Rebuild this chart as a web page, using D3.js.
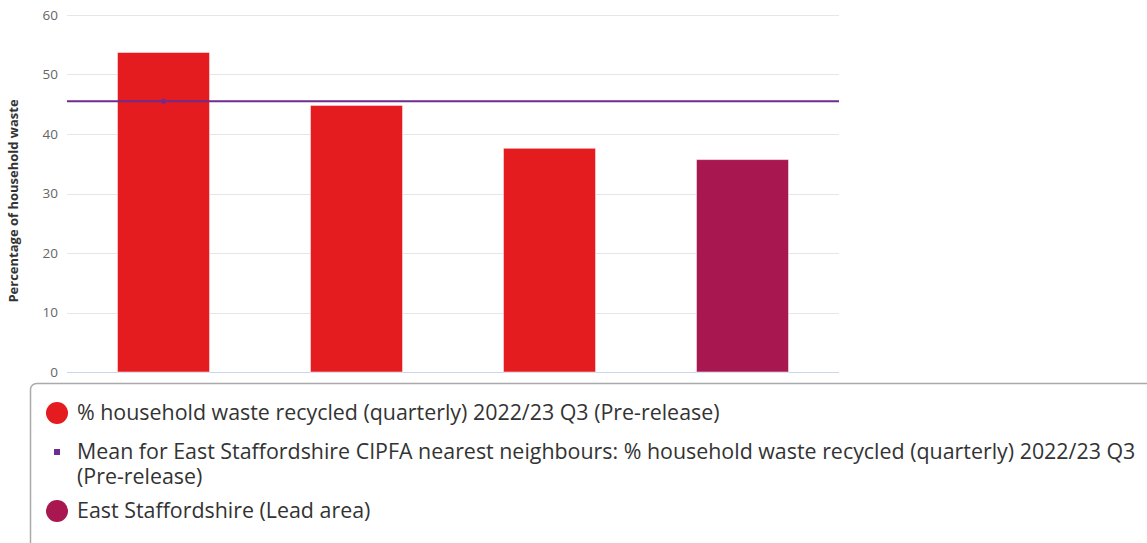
<!DOCTYPE html>
<html><head><meta charset="utf-8">
<script src="https://cdn.jsdelivr.net/npm/d3@7"></script>
<style>
body{margin:0;background:#fff;}
svg{display:block;font-family:"Open Sans",sans-serif;}
</style></head>
<body>
<svg id="chart" width="1147" height="543"></svg>
<script>
const categories = ["Area A","Area B","Area C","East Staffordshire"];
const values = [53.7, 44.8, 37.6, 35.7];
const isLead = [false, false, false, true];
const meanValue = 45.5;
const yTicks = [0,10,20,30,40,50,60];
const legendLabels = [
  "% household waste recycled (quarterly) 2022/23 Q3 (Pre-release)",
  ["Mean for East Staffordshire CIPFA nearest neighbours: % household waste recycled (quarterly) 2022/23 Q3","(Pre-release)"],
  "East Staffordshire (Lead area)"
];
const yTitle = "Percentage of household waste";

const colors = {bar:"#e41b1f", lead:"#a8174f", mean:"#6f2b8f"};
const svg = d3.select("#chart");
const plot = {left:67, right:839, top:15, bottom:372};

const x = d3.scaleBand().domain(categories).range([plot.left, plot.right]).padding(0);
const y = d3.scaleLinear().domain([0,60]).range([plot.bottom, plot.top]);

// grid
svg.append("g").selectAll("line").data(yTicks).join("line")
  .attr("x1", plot.left).attr("x2", plot.right)
  .attr("y1", d=>Math.round(y(d))+0.5).attr("y2", d=>Math.round(y(d))+0.5)
  .attr("stroke", d=> d===0 ? "#ccd6eb" : "#e6e6e6").attr("stroke-width",1);

// y axis labels
svg.append("g").selectAll("text").data(yTicks).join("text")
  .attr("x", 58).attr("y", d=>y(d)).attr("dy","0.35em")
  .attr("text-anchor","end").attr("font-size",13.5).attr("fill","#666")
  .text(d=>d);

svg.append("text")
  .attr("transform", `translate(18,201) rotate(-90)`)
  .attr("text-anchor","middle").attr("font-size",13).attr("font-weight","bold")
  .attr("fill","#333").text(yTitle);

// bars
const bw = x.bandwidth()*0.477;
svg.append("g").selectAll("rect").data(categories).join("rect")
  .attr("x", d=>x(d)+x.bandwidth()/2-bw/2)
  .attr("width", bw)
  .attr("y", (d,i)=>y(values[i]))
  .attr("height", (d,i)=>y(0)-y(values[i]))
  .attr("fill", (d,i)=> isLead[i] ? colors.lead : colors.bar)
  .attr("stroke","rgba(255,255,255,0.5)").attr("stroke-width",1);

// mean line
svg.append("line")
  .attr("x1", plot.left).attr("x2", plot.right)
  .attr("y1", y(meanValue)).attr("y2", y(meanValue))
  .attr("stroke", colors.mean).attr("stroke-width",2);
svg.append("circle")
  .attr("cx", x(categories[0])+x.bandwidth()/2).attr("cy", y(meanValue))
  .attr("r",2.5).attr("fill", colors.mean);

// legend
svg.append("rect").attr("x",30.5).attr("y",383.5).attr("width",1140).attr("height",180)
  .attr("rx",6).attr("fill","none").attr("stroke","#aaa").attr("stroke-width",1.5);

const lg = svg.append("g").attr("font-size",21.4).attr("fill","#333");
lg.append("circle").attr("cx",57).attr("cy",413).attr("r",11).attr("fill",colors.bar);
lg.append("text").attr("x",77).attr("y",413).attr("dy","0.35em").text(legendLabels[0]);

lg.append("rect").attr("x",54).attr("y",449).attr("width",6).attr("height",6).attr("fill",colors.mean);
lg.append("text").attr("x",77).attr("y",452).attr("dy","0.35em").text(legendLabels[1][0]);
lg.append("text").attr("x",77).attr("y",477).attr("dy","0.35em").text(legendLabels[1][1]);

lg.append("circle").attr("cx",57).attr("cy",511).attr("r",11).attr("fill",colors.lead);
lg.append("text").attr("x",77).attr("y",511).attr("dy","0.35em").text(legendLabels[2]);
</script>
</body></html>
